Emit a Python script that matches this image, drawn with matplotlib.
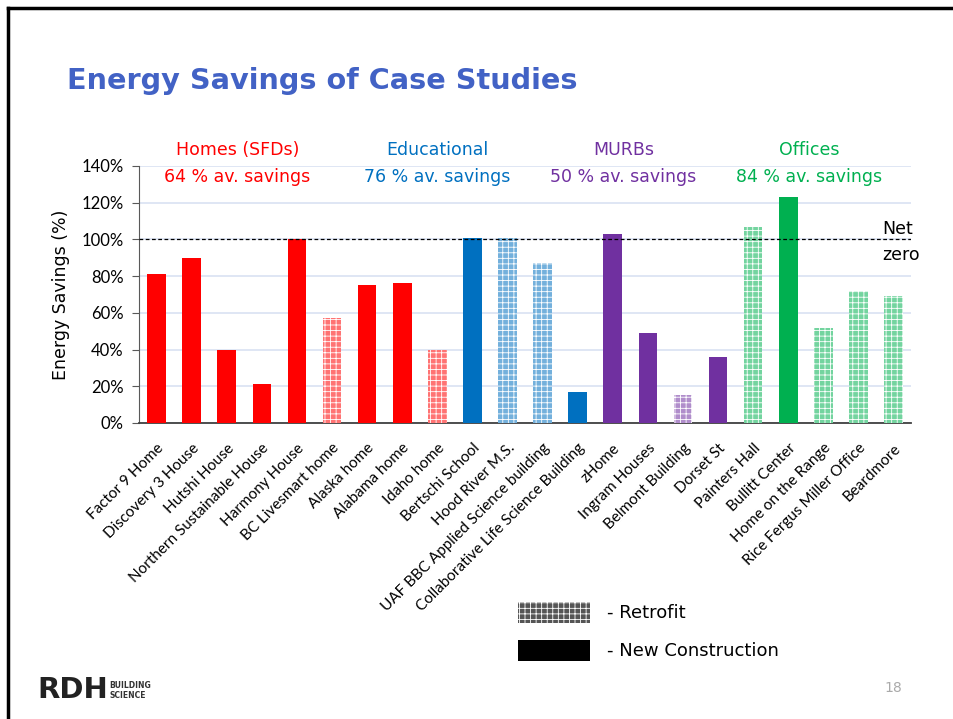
import matplotlib.pyplot as plt
from matplotlib.patches import Patch
from matplotlib.lines import Line2D
import matplotlib.colors as mcolors
import numpy as np

# datos
proyectos = ["Factor 9 Home", "Discovery 3 House", "Hutshi House",
             "Northern Sustainable House", "Harmony House", "BC Livesmart home",
             "Alaska home", "Alabama home", "Idaho home",
             "Bertschi School", "Hood River M.S.", "UAF BBC Applied Science building",
             "Collaborative Life Science Building",
             "zHome", "Ingram Houses", "Belmont Building", "Dorset St",
             "Painters Hall", "Bullitt Center", "Home on the Range",
             "Rice Fergus Miller Office", "Beardmore"]
ahorro = [81, 90, 40, 21, 100, 57, 75, 76, 40,
          101, 101, 87, 17,
          103, 49, 15, 36,
          107, 123, 52, 72, 69]
grupo = ["Homes"] * 9 + ["Educational"] * 4 + ["MURBs"] * 4 + ["Offices"] * 5
retrofit = [0, 0, 0, 0, 0, 1, 0, 0, 1,
            0, 1, 1, 0,
            0, 0, 1, 0,
            1, 0, 1, 1, 1]

grupos = ["Homes", "Educational", "MURBs", "Offices"]
titulos_grupo = ["Homes (SFDs)", "Educational", "MURBs", "Offices"]
promedios = ["64 % av. savings", "76 % av. savings", "50 % av. savings", "84 % av. savings"]
colores = {"Homes": "#FF0000", "Educational": "#0070C0",
           "MURBs": "#7030A0", "Offices": "#00B050"}
pos_titulo_grupo = [2.3, 8.0, 13.3, 18.6]

plt.rcParams['hatch.linewidth'] = 0.6

fig = plt.figure(figsize=(9.54, 7.19), dpi=100)
ax = fig.add_axes([0.1457, 0.4117, 0.8093, 0.3575])

x = np.arange(len(proyectos))
cols = [colores[g] for g in grupo]
barras = ax.bar(x, ahorro, width=0.53, color=cols, zorder=3)

# las barras de retrofit van con trama clara
for b, r, c in zip(barras, retrofit, cols):
    if r:
        rgb = np.array(mcolors.to_rgb(c))
        tinte = rgb * 0.55 + 0.45
        b.set_facecolor(tinte)
        b.set_edgecolor("white")
        b.set_linewidth(0)
        b.set_hatch("+++")

ax.set_xlim(-0.5, len(proyectos) - 0.5)
ax.set_ylim(0, 140)
ax.set_yticks(np.arange(0, 141, 20))
ax.set_yticklabels([f"{v}%" for v in range(0, 141, 20)], fontsize=12, family="Lato")
ax.yaxis.grid(True, color="#D9E1F2", linewidth=1.2, zorder=0)
ax.set_axisbelow(True)
ax.set_xticks(x)
ax.set_xticklabels(proyectos, rotation=45, ha="right", rotation_mode="anchor",
                   fontsize=11, family="Lato")
ax.tick_params(axis="x", length=0, pad=13)
ax.tick_params(axis="y", length=5, color="#595959", pad=6)
for s in ["top", "right"]:
    ax.spines[s].set_visible(False)
ax.spines["left"].set_color("#595959")
ax.spines["bottom"].set_color("#404040")
ax.spines["bottom"].set_linewidth(1.3)
ax.set_ylabel("Energy Savings (%)", fontsize=12.5, family="DejaVu Sans", labelpad=8)

# linea de net zero
ax.axhline(100, color="black", linestyle=(0, (3, 2)), linewidth=0.9, zorder=4)
ax.text(1.002, 0.754, "Net", transform=ax.transAxes, ha="right", va="center", fontsize=12.5)
ax.text(1.012, 0.654, "zero", transform=ax.transAxes, ha="right", va="center", fontsize=12.5)

for px, t, p, g in zip(pos_titulo_grupo, titulos_grupo, promedios, grupos):
    ax.text(px, 1.062, t, transform=ax.get_xaxis_transform(), ha="center", va="center",
            color=colores[g], fontsize=12.5)
    ax.text(px, 0.957, p, transform=ax.get_xaxis_transform(), ha="center", va="center",
            color=colores[g], fontsize=12.5)

fig.text(0.07, 0.888, "Energy Savings of Case Studies", fontsize=20.7, fontweight="bold",
         color="#4262C5", va="center", family="DejaVu Sans")

# leyenda
handles = [Patch(facecolor="#555555", edgecolor="white", linewidth=0, hatch="+++"),
           Patch(facecolor="black")]
fig.legend(handles, ["- Retrofit", "- New Construction"], loc="upper left",
           bbox_to_anchor=(0.5355, 0.173), frameon=False, fontsize=13,
           handlelength=4.0, handleheight=1.4, handletextpad=0.9, labelspacing=0.95,
           borderaxespad=0)

# marco de la diapositiva
fig.add_artist(Line2D([0.008, 1.0], [0.989, 0.989], color="black", linewidth=2.5))
fig.add_artist(Line2D([0.008, 0.008], [0.0, 0.989], color="black", linewidth=2.5))

# logo y numero de pagina
fig.text(0.039, 0.04, "RDH", fontsize=21, fontweight="bold", color="#222222", va="center")
fig.text(0.115, 0.04, "BUILDING\nSCIENCE", fontsize=5.5, fontweight="bold",
         color="#333333", va="center", linespacing=1.1)
fig.text(0.946, 0.043, "18", fontsize=10, color="#AAAAAA", ha="right", va="center")

fig.savefig("out.png", dpi=100)
